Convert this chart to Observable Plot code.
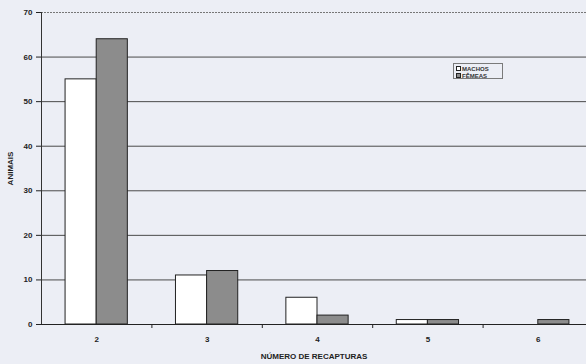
<!DOCTYPE html>
<html><head><meta charset="utf-8">
<script src="https://cdn.jsdelivr.net/npm/d3@7"></script>
<script src="https://cdn.jsdelivr.net/npm/@observablehq/plot@0.6"></script>
<style>
body{margin:0;background:#eceef5;}
#wrap{position:relative;width:586px;height:364px;overflow:hidden;}
.legend{position:absolute;left:453px;top:63px;width:50px;height:16px;border:1px solid #7a7a7a;font:bold 6px "Liberation Sans",Arial,sans-serif;color:#333;padding:1px 0 0 2px;box-sizing:border-box;}
.legend div{display:flex;align-items:center;height:7px;}
.legend span.sw{display:inline-block;width:5px;height:5px;border:1px solid #222;margin-right:1px;box-sizing:border-box;}
</style>
</head><body>
<div id="wrap"></div>
<script>
const categories = [2, 3, 4, 5, 6];
const series = ["MACHOS", "FÊMEAS"];
const machos = [55, 11, 6, 1, 0];
const femeas = [64, 12, 2, 1, 1];
const yTicks = [0, 10, 20, 30, 40, 50, 60, 70];
const colors = ["#ffffff", "#8c8c8c"];

const data = [];
categories.forEach((c, i) => {
  data.push({cat: c, sex: series[0], value: machos[i]});
  data.push({cat: c, sex: series[1], value: femeas[i]});
});
const half = 0.282;

const chart = Plot.plot({
  width: 586,
  height: 364,
  marginTop: 12,
  marginBottom: 40,
  marginLeft: 41,
  marginRight: 0,
  style: {background: "transparent", fontFamily: "'Liberation Sans', Arial, sans-serif", color: "#222"},
  x: {domain: [1.5, 6.5], range: [41, 593]},
  y: {domain: [0, 70]},
  color: {domain: series, range: colors},
  marks: [
    Plot.ruleY(yTicks.filter(t => t > 0 && t < 70), {stroke: "#4a4a4a", strokeWidth: 1}),
    Plot.ruleY([70], {stroke: "#777", strokeDasharray: "2,1"}),
    Plot.rectY(data, {
      x1: d => d.sex === series[0] ? d.cat - half : d.cat,
      x2: d => d.sex === series[0] ? d.cat : d.cat + half,
      y: "value",
      fill: "sex",
      stroke: "#222",
      strokeWidth: 1
    }),
    Plot.ruleX([1.5], {stroke: "#333", strokeWidth: 1}),
    Plot.ruleY([0], {stroke: "#222", strokeWidth: 1.2}),
    Plot.axisY({ticks: yTicks, tickSize: 5, tickPadding: 4, fontSize: 8, fontWeight: "bold",
      label: "ANIMAIS", labelAnchor: "center", labelArrow: "none", labelOffset: 34}),
    Plot.axisX({ticks: categories, tickSize: 0, tickPadding: 12, fontSize: 8, fontWeight: "bold",
      tickFormat: d => String(d),
      label: "NÚMERO DE RECAPTURAS", labelAnchor: "center", labelArrow: "none", labelOffset: 34}),
    Plot.axisX({ticks: [2.5, 3.5, 4.5, 5.5], tickSize: 4, tickFormat: () => "", label: null})
  ]
});
chart.querySelectorAll("g[aria-label='y-axis label'] text, g[aria-label='x-axis label'] text").forEach(t => {
  t.setAttribute("font-weight", "bold");
  t.setAttribute("font-size", "8");
});
const wrap = document.getElementById("wrap");
wrap.appendChild(chart);
const lg = document.createElement("div");
lg.className = "legend";
series.forEach((s, i) => {
  const row = document.createElement("div");
  row.innerHTML = `<span class="sw" style="background:${colors[i]}"></span>${s}`;
  lg.appendChild(row);
});
wrap.appendChild(lg);
</script>
</body></html>
